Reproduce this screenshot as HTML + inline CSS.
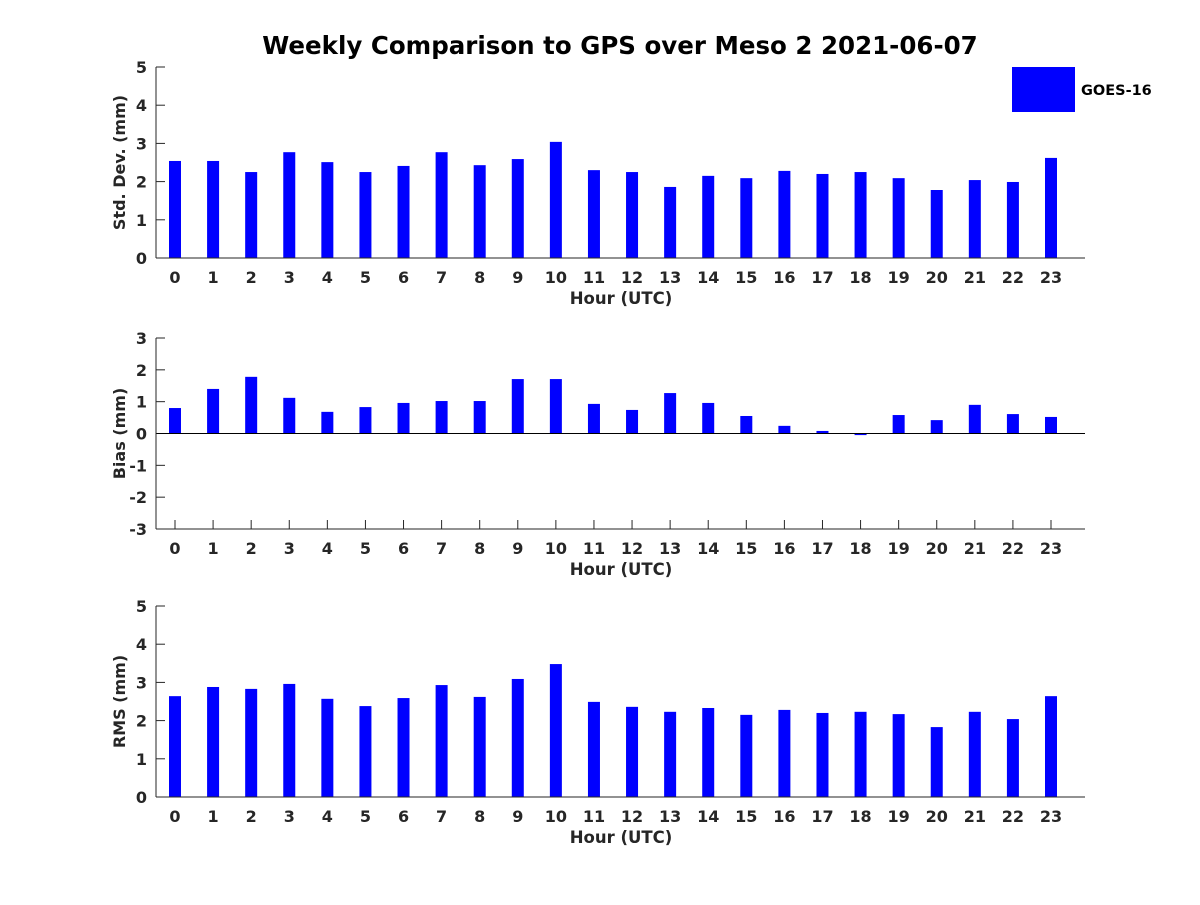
<!DOCTYPE html>
<html><head><meta charset="utf-8"><style>
html,body{margin:0;padding:0;background:#fff;}
svg text{font-family:"DejaVu Sans","Liberation Sans",sans-serif;font-weight:bold;fill:#262626;}
</style></head><body>
<svg id="chart" width="1200" height="900" xmlns="http://www.w3.org/2000/svg">
<rect width="1200" height="900" fill="#fff"/>
<text x="620" y="54" text-anchor="middle" font-size="24.5" style="fill:#000">Weekly Comparison to GPS over Meso 2 2021-06-07</text>
<g>
<rect x="1012" y="67" width="63" height="45" fill="#0000ff"/>
<text x="1081" y="95" font-size="14.5" style="fill:#000">GOES-16</text>
</g>
</svg>
<script>
const hours = [0,1,2,3,4,5,6,7,8,9,10,11,12,13,14,15,16,17,18,19,20,21,22,23];
const stdDev = [2.54,2.54,2.25,2.77,2.51,2.25,2.41,2.77,2.43,2.59,3.04,2.30,2.25,1.86,2.15,2.09,2.28,2.20,2.25,2.09,1.78,2.04,1.99,2.62];
const bias = [0.80,1.40,1.78,1.12,0.68,0.83,0.96,1.02,1.02,1.71,1.71,0.93,0.74,1.27,0.96,0.55,0.24,0.08,-0.05,0.58,0.42,0.90,0.61,0.52];
const rms = [2.64,2.88,2.83,2.96,2.57,2.38,2.59,2.93,2.62,3.09,3.48,2.49,2.36,2.23,2.33,2.15,2.28,2.20,2.23,2.17,1.83,2.23,2.04,2.64];
const stdTicks = [0,1,2,3,4,5];
const biasTicks = [-3,-2,-1,0,1,2,3];
const rmsTicks = [0,1,2,3,4,5];

const svg = document.getElementById('chart');
const NS = 'http://www.w3.org/2000/svg';
function mk(tag, attrs, parent){const e=document.createElementNS(NS,tag);for(const k in attrs)e.setAttribute(k,attrs[k]);(parent||svg).appendChild(e);return e;}

function panel(name, values, ticks, top, bottom, ylabel){
  const left=156,right=1085;
  const ymin=ticks[0], ymax=ticks[ticks.length-1];
  const y=v=>bottom-(v-ymin)/(ymax-ymin)*(bottom-top);
  const x=h=>175+(h-hours[0])*(1051-175)/23;
  const g=mk('g',{});
  
  
  ticks.forEach(t=>{
    mk('line',{x1:left,x2:left+9,y1:y(t),y2:y(t),stroke:'#262626'},g);
    const tx=mk('text',{x:left-9,y:y(t)+6,'text-anchor':'end','font-size':16},g);
    tx.textContent=t;
    
    
  });
  hours.forEach(h=>{
    mk('line',{x1:x(h),x2:x(h),y1:bottom,y2:bottom-9,stroke:'#262626'},g);
    const tx=mk('text',{x:x(h),y:bottom+25,'text-anchor':'middle','font-size':16},g);
    tx.textContent=h;
    
    
  });
  values.forEach((v,i)=>{
    const y0=y(0), y1=y(v);
    const r=mk('rect',{x:x(hours[i])-6,y:Math.min(y0,y1),width:12,height:Math.max(0.5,Math.abs(y1-y0)),fill:'#0000ff'},g);
    
    
  });
  if(ymin<0){const z=mk('line',{x1:left,x2:right,y1:y(0),y2:y(0),stroke:'#000','stroke-width':1},g);
    
    }
  const ya=mk('line',{x1:left,x2:left,y1:top,y2:bottom,stroke:'#262626','stroke-width':1},g);
  
  
  const xa=mk('line',{x1:left,x2:right,y1:bottom,y2:bottom,stroke:'#262626','stroke-width':1},g);
  
  
  const xl=mk('text',{x:621,y:bottom+46,'text-anchor':'middle','font-size':16.5},g);
  xl.textContent='Hour (UTC)';
  
  
  const cy=(top+bottom)/2;
  const yl=mk('text',{x:125,y:cy,'text-anchor':'middle','font-size':16,transform:'rotate(-90 125 '+cy+')'},g);
  yl.textContent=ylabel;
  
  
}
panel('std-dev', stdDev, stdTicks, 67, 258, 'Std. Dev. (mm)');
panel('bias', bias, biasTicks, 338, 529, 'Bias (mm)');
panel('rms', rms, rmsTicks, 606, 797, 'RMS (mm)');
</script>
</body></html>
